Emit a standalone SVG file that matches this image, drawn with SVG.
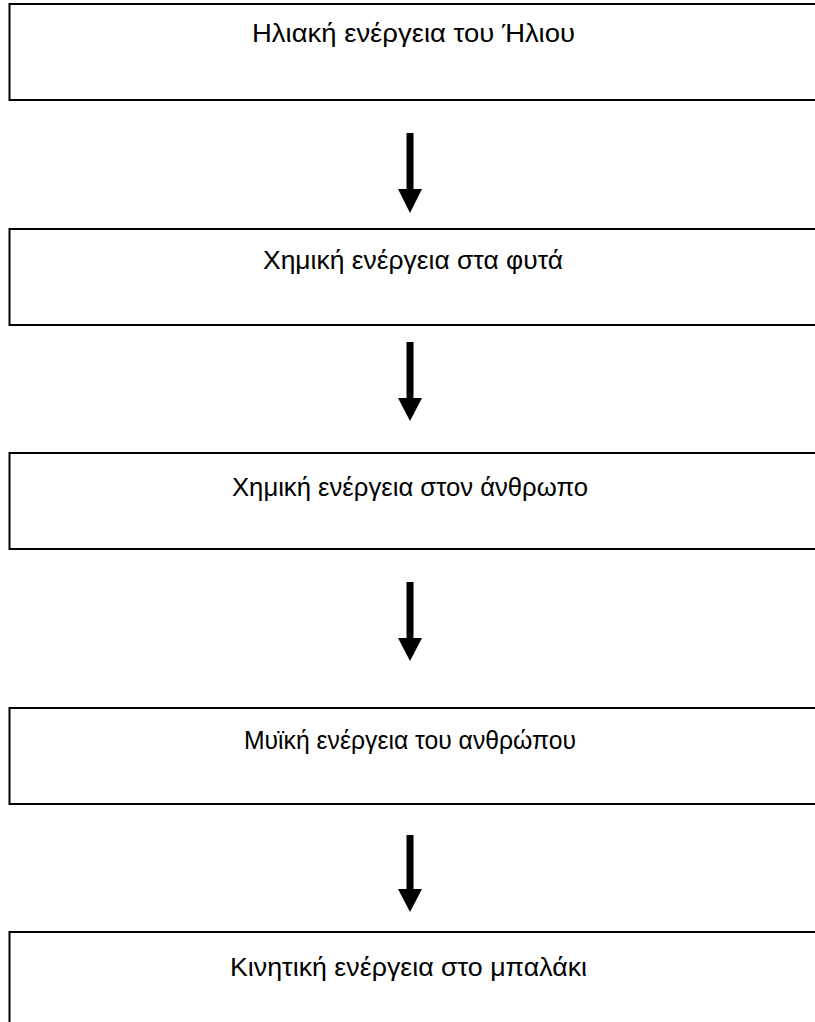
<svg xmlns="http://www.w3.org/2000/svg" width="815" height="1022" viewBox="0 0 815 1022">
  <style>
    .box { fill: #ffffff; stroke: #000000; stroke-width: 2; }
    .label { font-family: "Liberation Sans", Arial, sans-serif; font-size: 26px; fill: #000000; }
    .shaft { fill: #000000; }
  </style>
  <rect width="815" height="1022" fill="#ffffff"/>

  <!-- energy chain: each stage is a box open past the right edge -->
  <g id="node-sun">
    <rect class="box" x="9.5" y="4" width="820" height="96"/>
    <text class="label" x="252" y="42" textLength="323" lengthAdjust="spacingAndGlyphs">Ηλιακή ενέργεια του Ήλιου</text>
  </g>
  <g id="node-plants">
    <rect class="box" x="9.5" y="229" width="820" height="96"/>
    <text class="label" x="263" y="269" textLength="300" lengthAdjust="spacingAndGlyphs">Χημική ενέργεια στα φυτά</text>
  </g>
  <g id="node-human">
    <rect class="box" x="9.5" y="453" width="820" height="96"/>
    <text class="label" x="232" y="496" textLength="356" lengthAdjust="spacingAndGlyphs">Χημική ενέργεια στον άνθρωπο</text>
  </g>
  <g id="node-muscle">
    <rect class="box" x="9.5" y="708" width="820" height="96"/>
    <text class="label" x="244" y="749" textLength="332" lengthAdjust="spacingAndGlyphs">Μυϊκή ενέργεια του ανθρώπου</text>
  </g>
  <g id="node-ball">
    <rect class="box" x="9.5" y="932" width="820" height="120"/>
    <text class="label" x="230" y="976" textLength="357" lengthAdjust="spacingAndGlyphs">Κινητική ενέργεια στο μπαλάκι</text>
  </g>

  <!-- block arrows between stages -->
  <g id="connectors">
    <path class="shaft" d="M406.5 133 H413.5 V189 H422 L410 213 L398 189 H406.5 Z"/>
    <path class="shaft" d="M406.5 342 H413.5 V398 H422 L410 421 L398 398 H406.5 Z"/>
    <path class="shaft" d="M406.5 582 H413.5 V638 H422 L410 661 L398 638 H406.5 Z"/>
    <path class="shaft" d="M406.5 835 H413.5 V889 H422 L410 912 L398 889 H406.5 Z"/>
  </g>
</svg>
